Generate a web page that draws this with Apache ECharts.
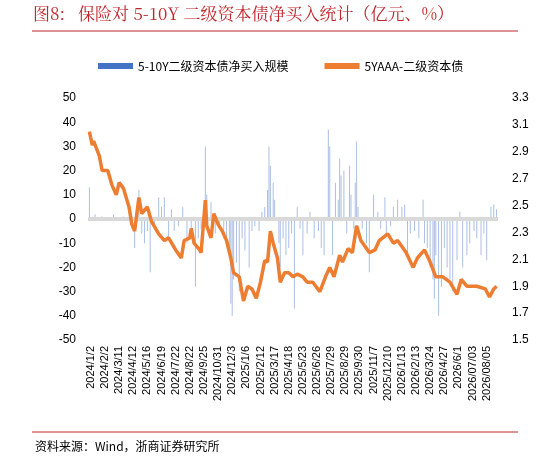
<!DOCTYPE html>
<html><head><meta charset="utf-8">
<script src="https://cdn.jsdelivr.net/npm/echarts@6/dist/echarts.min.js"></script>
<style>html,body{margin:0;padding:0;background:#fff}#c{width:548px;height:462px}</style>
</head><body><div id="c"></div>
<script>
const tickLabels = ["2024/1/2","2024/2/2","2024/3/11","2024/4/12","2024/5/16","2024/6/19","2024/7/22","2024/8/22","2024/9/25","2024/10/31","2024/12/3","2025/1/6","2025/2/12","2025/3/17","2025/4/18","2025/5/23","2025/6/26","2025/7/29","2025/8/29","2025/9/30","2025/11/7","2025/12/10","2026/1/13","2026/2/13","2026/3/24","2026/4/27","2026/6/1","2026/07/03","2026/08/05"];
// [position index, value]
const netBuy = [[1,13],[5,2],[10,1],[18,2],[25,1],[33,-12],[36,12],[38,-6],[40,-10],[42,-5],[44,-22],[47,-4],[50,9],[52,5],[54,9],[57,-8],[59,4],[61,-5],[64,-3],[67,5],[70,-10],[73,-6],[76,-28],[78,-8],[80,-4],[83,30],[84,10],[87,7],[90,-6],[93,-4],[96,-8],[98,-10],[100,-15],[101,-35],[102,-40],[103,-25],[105,-18],[107,-30],[109,-8],[111,-13],[114,-20],[116,-5],[118,-3],[121,-5],[123,3],[125,5],[127,12],[128,30],[129,22],[131,15],[132,8],[135,-10],[136,-20],[138,-8],[140,-15],[142,-12],[144,-6],[146,-37],[148,5],[150,-4],[152,-15],[155,-6],[157,3],[160,-8],[163,-5],[165,-12],[167,-15],[170,37],[171,30],[173,-15],[175,15],[177,8],[178,25],[179,18],[181,20],[183,-6],[185,22],[186,10],[188,-4],[189,15],[190,32],[191,5],[194,-4],[197,-10],[199,-22],[202,10],[205,3],[207,-4],[210,9],[211,-6],[214,-3],[216,5],[219,8],[222,5],[224,6],[226,-15],[228,-6],[231,-5],[234,-8],[237,8],[238,-10],[240,-12],[242,-20],[244,-25],[245,-33],[246,-15],[248,-40],[250,-28],[252,-12],[254,-20],[256,-25],[258,-30],[261,-17],[263,3],[265,-20],[268,-15],[270,-10],[273,-5],[275,-8],[278,-15],[280,-6],[282,-17],[285,5],[287,6],[289,4]];
const yield5Y = [[1,3.05],[3,2.95],[4,2.98],[8,2.87],[10,2.76],[14,2.76],[17,2.65],[20,2.58],[22,2.67],[25,2.63],[29,2.49],[31,2.36],[33,2.31],[36,2.56],[38,2.44],[42,2.49],[45,2.38],[50,2.29],[54,2.24],[57,2.26],[62,2.17],[66,2.11],[68,2.24],[72,2.26],[73,2.33],[75,2.22],[79,2.17],[80,2.15],[83,2.54],[84,2.35],[87,2.26],[89,2.44],[92,2.36],[95,2.31],[98,2.24],[101,2.11],[103,2.00],[107,1.97],[110,1.79],[113,1.90],[116,1.88],[119,1.81],[122,1.93],[125,2.09],[127,2.08],[129,2.31],[131,2.22],[134,2.11],[136,1.93],[139,2.00],[142,2.00],[145,1.97],[148,1.99],[152,1.97],[155,1.93],[159,1.93],[164,1.86],[168,1.97],[171,2.04],[174,1.97],[178,2.13],[180,2.08],[184,2.18],[187,2.15],[190,2.35],[193,2.24],[199,2.15],[203,2.17],[206,2.24],[212,2.29],[216,2.22],[219,2.24],[225,2.15],[230,2.04],[233,2.11],[238,2.17],[242,2.08],[246,1.97],[251,1.97],[256,1.93],[261,1.84],[264,1.95],[268,1.90],[275,1.90],[281,1.88],[284,1.82],[287,1.88],[289,1.90]];
const N = 291, OFF = 2;
const cats = [];
for (let i = 0; i < N; i++) cats.push((i - OFF) % 10 === 0 && i >= OFF ? tickLabels[(i - OFF) / 10] : '');
const chart = echarts.init(document.getElementById('c'));
const red = '#c0272d';
chart.setOption({
  animation: false,
  graphic: [
    {type:'text', left:33, top:5, style:{text:'图8:   保险对 5-10Y 二级资本债净买入统计（亿元、%）', fill:red, font:'17px "Noto Serif CJK SC","Noto Sans CJK SC",serif'}},
    {type:'line', shape:{x1:32,y1:31,x2:518,y2:31}, style:{stroke:red, lineWidth:1}},
    {type:'line', shape:{x1:32,y1:432,x2:518,y2:432}, style:{stroke:red, lineWidth:1}},
    {type:'text', left:35, top:440, style:{text:'资料来源：Wind，浙商证券研究所', fill:'#000', font:'12px "Noto Sans CJK SC",sans-serif'}}
  ],
  legend: {
    top: 55, left: 93, itemGap: 36, itemWidth: 35, itemHeight: 6,
    textStyle: {fontSize: 12, color: '#000', fontFamily: '"Noto Sans CJK SC",sans-serif'},
    data: [{name:'5-10Y二级资本债净买入规模', icon:'rect', itemStyle:{color:'#4472c4', opacity:1}}, {name:'5YAAA-二级资本债', icon:'rect'}]
  },
  grid: {left: 88, right: 50, top: 98, bottom: 122},
  xAxis: {
    type: 'category', data: cats, boundaryGap: false,
    axisLine: {show: false}, axisTick: {show: false},
    axisLabel: {interval: 0, rotate: 90, fontSize: 11, color: '#000', margin: 6, fontFamily: 'Liberation Sans, Arial'}
  },
  yAxis: [
    {type:'value', min:-50, max:50, interval:10, splitLine:{show:false}, axisLine:{show:false}, axisTick:{show:false},
     axisLabel:{fontSize:12, color:'#000', margin:12, fontFamily:'Liberation Sans, Arial'}},
    {type:'value', min:1.5, max:3.3, interval:0.2, splitLine:{show:false}, axisLine:{show:false}, axisTick:{show:false},
     axisLabel:{fontSize:12, color:'#000', margin:14, formatter: v => v.toFixed(1), fontFamily:'Liberation Sans, Arial'}}
  ],
  series: [
    {name:'5-10Y二级资本债净买入规模', type:'bar', yAxisIndex:0, data: netBuy, barWidth:1,
     itemStyle:{color:'rgba(68,114,196,0.45)'},
     markLine:{silent:true, symbol:'none', label:{show:false}, lineStyle:{color:'#d9d9d9', width:4, type:'solid'}, data:[{yAxis:0}]}},
    {name:'5YAAA-二级资本债', type:'line', yAxisIndex:1, data: yield5Y, showSymbol:false,
     lineStyle:{color:'#ed7d31', width:3.5}, itemStyle:{color:'#ed7d31'}, z:5}
  ]
});
</script></body></html>
